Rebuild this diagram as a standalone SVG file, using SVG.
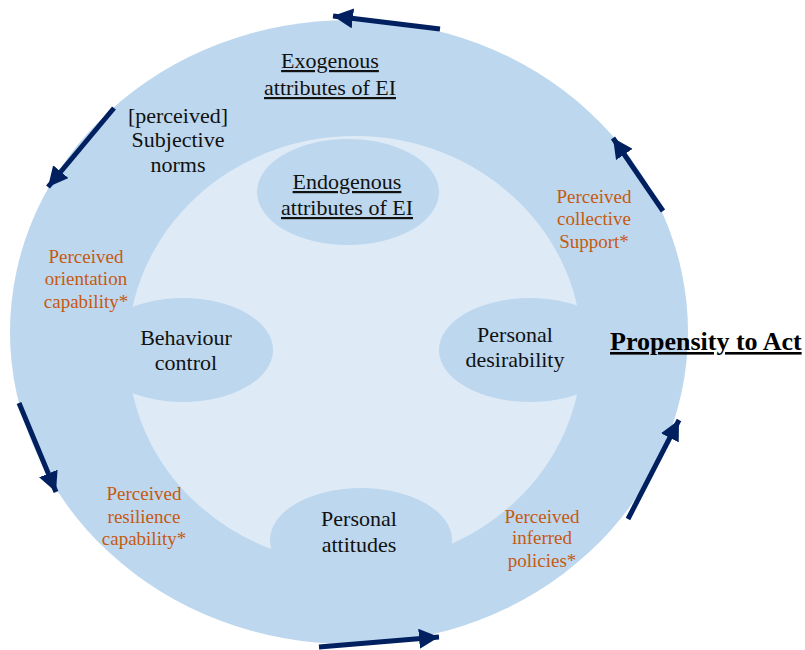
<svg xmlns="http://www.w3.org/2000/svg" width="805" height="650" viewBox="0 0 805 650">
<defs>
<style>
.mid{fill:#bdd7ee;}
.lt{fill:#deebf7;}
.t{font-family:"Liberation Serif","Times New Roman",serif;font-size:22px;fill:#111;text-anchor:middle;}
.u{text-decoration:underline;}
.o{font-family:"Liberation Serif","Times New Roman",serif;font-size:19px;fill:#c55a11;text-anchor:middle;}
.b{font-family:"Liberation Serif","Times New Roman",serif;font-size:26px;font-weight:bold;fill:#000;text-decoration:underline;}
.arr{stroke:#002060;stroke-width:5;fill:none;marker-end:url(#ah);}
</style>
<marker id="ah" markerUnits="userSpaceOnUse" markerWidth="24" markerHeight="20" refX="20" refY="10" orient="auto">
<path d="M0,0 L20,10 L0,20 Z" fill="#002060"/>
</marker>
</defs>
<rect width="805" height="650" fill="#fff"/>
<g id="outer"><ellipse class="mid" cx="349" cy="332" rx="339" ry="312"/></g>
<g id="inner"><ellipse class="lt" cx="355" cy="350" rx="227" ry="214"/></g>

<g id="endogenous">
<ellipse class="mid" cx="348" cy="192" rx="91" ry="53"/>
<text class="t u" x="347" y="189">Endogenous</text>
<text class="t u" x="347" y="215">attributes of EI</text>
</g>
<g id="behaviour">
<ellipse class="mid" cx="183" cy="350" rx="90" ry="52"/>
<text class="t" x="186" y="345">Behaviour</text>
<text class="t" x="186" y="370">control</text>
</g>
<g id="desirability">
<ellipse class="mid" cx="530" cy="350" rx="91" ry="52"/>
<text class="t" x="515" y="342">Personal</text>
<text class="t" x="515" y="367">desirability</text>
</g>
<g id="attitudes">
<ellipse class="mid" cx="361" cy="540" rx="91" ry="52"/>
<text class="t" x="359" y="526">Personal</text>
<text class="t" x="359" y="552">attitudes</text>
</g>

<g id="exogenous">
<text class="t u" x="330" y="68">Exogenous</text>
<text class="t u" x="330" y="95">attributes of EI</text>
</g>
<g id="norms">
<text class="t" x="178" y="123">[perceived]</text>
<text class="t" x="178" y="147">Subjective</text>
<text class="t" x="178" y="172">norms</text>
</g>
<g id="orientation">
<text class="o" x="86" y="263">Perceived</text>
<text class="o" x="86" y="285">orientation</text>
<text class="o" x="86" y="308">capability*</text>
</g>
<g id="collective">
<text class="o" x="594" y="203">Perceived</text>
<text class="o" x="594" y="225">collective</text>
<text class="o" x="594" y="248">Support*</text>
</g>
<g id="resilience">
<text class="o" x="144" y="500">Perceived</text>
<text class="o" x="144" y="523">resilience</text>
<text class="o" x="144" y="545">capability*</text>
</g>
<g id="policies">
<text class="o" x="542" y="523">Perceived</text>
<text class="o" x="542" y="544">inferred</text>
<text class="o" x="542" y="567">policies*</text>
</g>
<g id="propensity">
<text class="b" x="610" y="350">Propensity to Act</text>
</g>

<g id="connectors">
<line class="arr" x1="440" y1="29" x2="333" y2="16"/>
<line class="arr" x1="114" y1="108" x2="48" y2="187"/>
<line class="arr" x1="19" y1="403" x2="56" y2="492"/>
<line class="arr" x1="319" y1="647" x2="439" y2="637"/>
<line class="arr" x1="628" y1="519" x2="679" y2="420"/>
<line class="arr" x1="663" y1="211" x2="613" y2="138"/>
</g>
</svg>
